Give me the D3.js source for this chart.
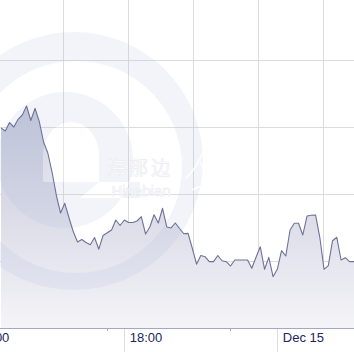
<!DOCTYPE html>
<html><head><meta charset="utf-8">
<script src="https://cdn.jsdelivr.net/npm/d3@7"></script>
<style>html,body{margin:0;padding:0;background:#fff;overflow:hidden}</style>
</head><body><svg id="c" width="354" height="352"></svg>
<script>
// ---- data ----
const startTime = new Date(2014, 11, 14, 13, 10);   // first sample, 10-minute samples
const stepMinutes = 10;
const values = [
  29.85, 29.40, 30.67, 30.00, 31.15, 31.79, 33.13, 30.97, 32.79, 30.79,
  27.76, 26.12, 23.28, 19.85, 17.16, 18.61, 16.42, 14.37, 12.84, 13.21,
  12.76, 12.43, 13.51, 11.76, 13.81, 14.22, 14.63, 16.12, 15.30, 16.12,
  15.75, 15.75, 15.97, 16.61, 14.03, 15.07, 16.91, 15.67, 17.87, 15.07,
  14.93, 15.67, 14.85, 14.07, 14.13, 11.90, 9.52, 10.82, 10.64, 9.90,
  9.90, 10.82, 10.04, 9.90, 9.25, 10.15, 10.15, 10.15, 10.15, 8.91,
  10.55, 12.13, 8.76, 10.55, 7.66, 8.76, 11.54, 10.75, 14.63, 15.63,
  15.63, 13.88, 16.72, 16.82, 16.87, 13.54, 8.76, 9.30, 13.03, 13.54,
  10.15, 10.49, 9.90, 9.90, 9.90
];
const yGridValues = [10, 20, 30, 40];
const majorTicks = [new Date(2014, 11, 14, 12, 0), new Date(2014, 11, 14, 18, 0), new Date(2014, 11, 15, 0, 0)];
const majorLabels = ["12:00", "18:00", "Dec 15"];
const minorTicks = [new Date(2014, 11, 14, 17, 20), new Date(2014, 11, 14, 22, 10)];
const xGridCols = [0, 1, 2, 3, 4];
const watermarkCN = "海那边";
const watermarkEN = "Hinabian";

// ---- build ----
const data = values.map((v, i) => ({t: new Date(startTime.getTime() + i * stepMinutes * 60000), v}));
const W = 354, H = 352, axisY = 328;
const svg = d3.select("#c");

const x = d3.scaleTime()
  .domain([new Date(2014, 11, 14, 13, 0), new Date(2014, 11, 15, 3, 0)])
  .range([-3.2, 353.8]);
const y = d3.scaleLinear().domain([0, 40]).range([axisY, 60]);
const gx = d3.scaleLinear().domain([0, 4]).range([63.3, 323.3]);
const crisp = v => Math.floor(v) + 0.5;

// gradient
const defs = svg.append("defs");
const grad = defs.append("linearGradient").attr("id", "g")
  .attr("gradientUnits", "userSpaceOnUse")
  .attr("x1", 0).attr("x2", 0).attr("y1", y(d3.max(values))).attr("y2", axisY);
grad.append("stop").attr("offset", 0).attr("stop-color", "#c2c5d7");
grad.append("stop").attr("offset", 1).attr("stop-color", "#f4f4f8");

// grid
svg.append("g").selectAll("line").data(yGridValues).join("line")
  .attr("x1", 0).attr("x2", W).attr("y1", d => crisp(y(d))).attr("y2", d => crisp(y(d)))
  .attr("stroke", "#dcdcdc").attr("stroke-width", 1);
svg.append("g").selectAll("line").data(xGridCols).join("line")
  .attr("x1", d => crisp(gx(d))).attr("x2", d => crisp(gx(d))).attr("y1", 0).attr("y2", axisY)
  .attr("stroke", "#dcdcdc").attr("stroke-width", 1);

// area
svg.append("path").datum(data)
  .attr("d", d3.area().x(d => x(d.t)).y0(axisY).y1(d => y(d.v)))
  .attr("fill", "url(#g)");

// watermark
const wmFill = "rgba(170,178,222,0.15)";
const wm = svg.append("g");
const ring = d3.path();
ring.moveTo(74 + 129, 161); ring.arc(74, 161, 129, 0, Math.PI * 2);
ring.moveTo(76 + 106, 167); ring.arc(76, 167, 106, 0, Math.PI * 2);
wm.append("path").attr("d", ring.toString()).attr("fill-rule", "evenodd").attr("fill", wmFill);
const eCounter = "M43,182 L43,155 A28,33 0 0 1 99,155 L99,182 Z";
const eSlit = "M80,198 L99,182 L140,182 L140,198 Z";
const eOuter = d3.path(); eOuter.moveTo(65 + 68, 160); eOuter.arc(65, 160, 68, 0, Math.PI * 2);
wm.append("clipPath").attr("id", "eclip").append("path").attr("d", eOuter.toString());
wm.append("path").attr("d", eOuter.toString() + eCounter + eSlit).attr("fill-rule", "evenodd")
  .attr("fill", wmFill);
wm.append("path").attr("d", eCounter + eSlit).attr("clip-path", "url(#eclip)")
  .attr("fill", "rgba(255,255,255,0.3)");
wm.append("text").attr("x", 140).attr("y", 175).attr("text-anchor", "middle")
  .attr("font-family", "Noto Sans CJK SC").attr("font-size", 19)
  .attr("fill", "#ffffff").attr("stroke", "#ececf2").attr("stroke-width", 0.7)
  .attr("letter-spacing", 3).text(watermarkCN);
wm.append("text").attr("x", 141).attr("y", 196).attr("text-anchor", "middle")
  .attr("font-family", "Liberation Sans, Arial").attr("font-size", 15)
  .attr("fill", "#ffffff").attr("stroke", "#ececf2").attr("stroke-width", 0.7)
  .text(watermarkEN);
wm.append("path").attr("d", "M186,178 C195,170 200,160 204,150 M200,162 C206,170 210,180 204,192 M192,190 C198,186 206,186 214,190")
  .attr("fill", "none").attr("stroke", "#ffffff").attr("stroke-width", 2).attr("opacity", 0.8);

// line
svg.append("path").datum(data)
  .attr("d", d3.line().x(d => x(d.t)).y(d => y(d.v)))
  .attr("fill", "none").attr("stroke", "#6d7299").attr("stroke-width", 1.1)
  .attr("stroke-linejoin", "round");

// axis
svg.append("line").attr("x1", 0).attr("x2", W).attr("y1", axisY + 0.5).attr("y2", axisY + 0.5)
  .attr("stroke", "#a3a7c6").attr("stroke-width", 1);
svg.append("g").selectAll("line").data(majorTicks).join("line")
  .attr("x1", d => crisp(x(d))).attr("x2", d => crisp(x(d))).attr("y1", axisY + 1).attr("y2", H)
  .attr("stroke", "#dcdce4").attr("stroke-width", 1);
svg.append("g").selectAll("line").data(minorTicks).join("line")
  .attr("x1", d => crisp(x(d))).attr("x2", d => crisp(x(d))).attr("y1", axisY + 1).attr("y2", axisY + 3)
  .attr("stroke", "#a3a7c6").attr("stroke-width", 1);
svg.append("g").selectAll("text").data(majorTicks).join("text")
  .attr("x", d => x(d) + 5.5).attr("y", 342)
  .attr("font-family", "Liberation Sans, Arial, sans-serif").attr("font-size", 13)
  .attr("fill", "#22265f").text((d, i) => majorLabels[i]);
</script></body></html>
